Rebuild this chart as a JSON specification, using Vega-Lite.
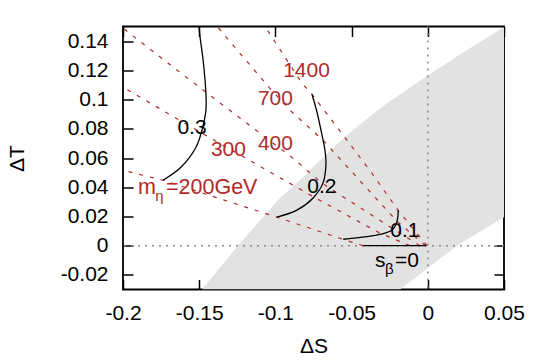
{
  "$schema": "https://vega.github.io/schema/vega-lite/v6.json",
  "width": 381,
  "height": 263,
  "autosize": {"type": "none"},
  "padding": {"left": 123, "top": 26.5, "right": 41, "bottom": 72.5},
  "background": "white",
  "config": {
    "view": {"stroke": "black", "strokeWidth": 1.8},
    "font": "Liberation Sans",
    "axis": {
      "domain": false, "grid": false, "tickColor": "black", "tickWidth": 1.5, "tickSize": -10,
      "labelFont": "Liberation Sans", "labelFontSize": 21, "labelColor": "black",
      "labelFlush": false, "labelOverlap": false, "labelBound": false,
      "titleFont": "Liberation Sans", "titleFontSize": 21, "titleFontWeight": "normal", "titleColor": "black"
    }
  },
  "datasets": {
    "region": [
      {"x": -0.1482, "top": -0.03, "bottom": -0.03},
      {"x": -0.1246, "top": 0.0, "bottom": -0.03},
      {"x": -0.0985, "top": 0.0311, "bottom": -0.03},
      {"x": -0.0819, "top": 0.0469, "bottom": -0.03},
      {"x": -0.0675, "top": 0.0619, "bottom": -0.03},
      {"x": -0.0531, "top": 0.0756, "bottom": -0.03},
      {"x": -0.038, "top": 0.0886, "bottom": -0.03},
      {"x": -0.0249, "top": 0.0988, "bottom": -0.03},
      {"x": -0.0183, "top": 0.1035, "bottom": -0.03},
      {"x": 0.0001, "top": 0.1166, "bottom": -0.0152},
      {"x": 0.0191, "top": 0.1294, "bottom": 0.0},
      {"x": 0.0244, "top": 0.133, "bottom": 0.0033},
      {"x": 0.05, "top": 0.1495, "bottom": 0.0195}
    ],
    "mass": [
      {"m": "200", "o": 0, "x": -0.0425, "y": 0.0},
      {"m": "200", "o": 1, "x": -0.0557, "y": 0.0044},
      {"m": "200", "o": 2, "x": -0.099, "y": 0.0195},
      {"m": "200", "o": 3, "x": -0.1738, "y": 0.0448},
      {"m": "200", "o": 4, "x": -0.2, "y": 0.0516},
      {"m": "300", "o": 0, "x": -0.0117, "y": 0.0},
      {"m": "300", "o": 1, "x": -0.0314, "y": 0.0086},
      {"m": "300", "o": 2, "x": -0.0747, "y": 0.0332},
      {"m": "300", "o": 3, "x": -0.1482, "y": 0.077},
      {"m": "300", "o": 4, "x": -0.2, "y": 0.1084},
      {"m": "400", "o": 0, "x": -0.0052, "y": 0.0},
      {"m": "400", "o": 1, "x": -0.0235, "y": 0.012},
      {"m": "400", "o": 2, "x": -0.0695, "y": 0.0428},
      {"m": "400", "o": 3, "x": -0.0885, "y": 0.0599},
      {"m": "400", "o": 4, "x": -0.1456, "y": 0.105},
      {"m": "400", "o": 5, "x": -0.1941, "y": 0.144},
      {"m": "400", "o": 6, "x": -0.2, "y": 0.149},
      {"m": "700", "o": 0, "x": -0.0015, "y": 0.0},
      {"m": "700", "o": 1, "x": -0.0203, "y": 0.0168},
      {"m": "700", "o": 2, "x": -0.0688, "y": 0.0722},
      {"m": "700", "o": 3, "x": -0.0904, "y": 0.0927},
      {"m": "700", "o": 4, "x": -0.1036, "y": 0.1077},
      {"m": "700", "o": 5, "x": -0.1383, "y": 0.15},
      {"m": "1400", "o": 0, "x": -0.0005, "y": 0.0},
      {"m": "1400", "o": 1, "x": -0.0196, "y": 0.0243},
      {"m": "1400", "o": 2, "x": -0.0367, "y": 0.0496},
      {"m": "1400", "o": 3, "x": -0.059, "y": 0.0804},
      {"m": "1400", "o": 4, "x": -0.076, "y": 0.1036},
      {"m": "1400", "o": 5, "x": -0.0826, "y": 0.1112},
      {"m": "1400", "o": 6, "x": -0.1068, "y": 0.15}
    ],
    "sbeta": [
      {"s": "0.1", "o": 0, "x": -0.0555, "y": 0.0044},
      {"s": "0.1", "o": 1, "x": -0.0467, "y": 0.0053},
      {"s": "0.1", "o": 2, "x": -0.038, "y": 0.0065},
      {"s": "0.1", "o": 3, "x": -0.0292, "y": 0.0083},
      {"s": "0.1", "o": 4, "x": -0.0237, "y": 0.0106},
      {"s": "0.1", "o": 5, "x": -0.0211, "y": 0.014},
      {"s": "0.1", "o": 6, "x": -0.0198, "y": 0.0186},
      {"s": "0.1", "o": 7, "x": -0.0194, "y": 0.0243},
      {"s": "0.2", "o": 0, "x": -0.099, "y": 0.0195},
      {"s": "0.2", "o": 1, "x": -0.0859, "y": 0.0243},
      {"s": "0.2", "o": 2, "x": -0.0754, "y": 0.0325},
      {"s": "0.2", "o": 3, "x": -0.0688, "y": 0.0428},
      {"s": "0.2", "o": 4, "x": -0.0668, "y": 0.0564},
      {"s": "0.2", "o": 5, "x": -0.0675, "y": 0.0653},
      {"s": "0.2", "o": 6, "x": -0.0701, "y": 0.079},
      {"s": "0.2", "o": 7, "x": -0.0727, "y": 0.0913},
      {"s": "0.2", "o": 8, "x": -0.076, "y": 0.1036},
      {"s": "0.3", "o": 0, "x": -0.1738, "y": 0.0448},
      {"s": "0.3", "o": 1, "x": -0.162, "y": 0.0537},
      {"s": "0.3", "o": 2, "x": -0.1521, "y": 0.0674},
      {"s": "0.3", "o": 3, "x": -0.1482, "y": 0.079},
      {"s": "0.3", "o": 4, "x": -0.1456, "y": 0.0927},
      {"s": "0.3", "o": 5, "x": -0.1456, "y": 0.1043},
      {"s": "0.3", "o": 6, "x": -0.1475, "y": 0.1276},
      {"s": "0.3", "o": 7, "x": -0.1495, "y": 0.1433},
      {"s": "0.3", "o": 8, "x": -0.1501, "y": 0.15},
      {"s": "0", "o": 0, "x": -0.0425, "y": 0.0},
      {"s": "0", "o": 1, "x": -0.0012, "y": 0.0}
    ],
    "redLabels": [
      {"t": "300", "x": -0.1308, "y": 0.0653},
      {"t": "400", "x": -0.1, "y": 0.0698},
      {"t": "700", "x": -0.1, "y": 0.1002},
      {"t": "1400", "x": -0.0796, "y": 0.1194}
    ],
    "redLeft": [
      {"t": "m", "x": -0.1902, "y": 0.0397},
      {"t": "=200GeV", "x": -0.1718, "y": 0.0397}
    ],
    "redSub": [
      {"t": "η", "x": -0.1788, "y": 0.0337}
    ],
    "blackLabels": [
      {"t": "0.3", "x": -0.1547, "y": 0.0804},
      {"t": "0.2", "x": -0.0695, "y": 0.0404},
      {"t": "0.1", "x": -0.015, "y": 0.0103}
    ],
    "blackLeft": [
      {"t": "s", "x": -0.0347, "y": -0.0106},
      {"t": "=0", "x": -0.0216, "y": -0.0106}
    ],
    "blackSub": [
      {"t": "β", "x": -0.0281, "y": -0.0161}
    ],
    "zx": [{"x": 0}],
    "zy": [{"y": 0}]
  },
  "resolve": {"axis": {"x": "independent", "y": "independent"}},
  "layer": [
    {
      "data": {"name": "region"},
      "mark": {"type": "area", "color": "#e2e2e2", "clip": true},
      "encoding": {
        "x": {
          "field": "x", "type": "quantitative",
          "scale": {"domain": [-0.2, 0.05], "nice": false, "zero": false},
          "axis": {
            "orient": "bottom", "values": [-0.2, -0.15, -0.1, -0.05, 0, 0.05],
            "labelExpr": "datum.value < 0 ? '-' + format(-datum.value, '~g') : format(datum.value, '~g')",
            "labelPadding": 23, "title": "ΔS", "titleY": 63, "titleBaseline": "alphabetic"
          }
        },
        "y": {
          "field": "top", "type": "quantitative",
          "scale": {"domain": [-0.03, 0.15], "nice": false, "zero": false},
          "axis": {
            "orient": "left", "values": [-0.02, 0, 0.02, 0.04, 0.06, 0.08, 0.1, 0.12, 0.14],
            "labelExpr": "datum.value < 0 ? '-' + format(-datum.value, '~g') : format(datum.value, '~g')",
            "labelPadding": 25, "title": "ΔT", "titleX": -100, "titleY": 131.5, "titleAngle": -90,
            "titleAlign": "center", "titleBaseline": "alphabetic"
          }
        },
        "y2": {"field": "bottom"}
      }
    },
    {
      "data": {"name": "zx"},
      "mark": {"type": "rule", "color": "#888888", "strokeWidth": 1.5, "strokeDash": [2, 5]},
      "encoding": {
        "x": {"field": "x", "type": "quantitative", "axis": {"orient": "top", "labels": false, "title": null, "values": [-0.2, -0.15, -0.1, -0.05, 0, 0.05]}}
      }
    },
    {
      "data": {"name": "zy"},
      "mark": {"type": "rule", "color": "#888888", "strokeWidth": 1.5, "strokeDash": [2, 5]},
      "encoding": {
        "y": {"field": "y", "type": "quantitative", "axis": {"orient": "right", "labels": false, "title": null, "values": [-0.02, 0, 0.02, 0.04, 0.06, 0.08, 0.1, 0.12, 0.14]}}
      }
    },
    {
      "data": {"name": "mass"},
      "mark": {"type": "line", "color": "#b22a2a", "strokeWidth": 1.2, "strokeDash": [4, 7], "clip": true},
      "encoding": {
        "x": {"field": "x", "type": "quantitative", "axis": null},
        "y": {"field": "y", "type": "quantitative", "axis": null},
        "detail": {"field": "m"},
        "order": {"field": "o", "type": "quantitative"}
      }
    },
    {
      "data": {"name": "sbeta"},
      "mark": {"type": "line", "color": "black", "strokeWidth": 1.3, "interpolate": "catmull-rom", "clip": true},
      "encoding": {
        "x": {"field": "x", "type": "quantitative", "axis": null},
        "y": {"field": "y", "type": "quantitative", "axis": null},
        "detail": {"field": "s"},
        "order": {"field": "o", "type": "quantitative"}
      }
    },
    {
      "data": {"name": "redLabels"},
      "mark": {"type": "text", "color": "#b22a2a", "fontSize": 21, "font": "Liberation Sans", "align": "center", "baseline": "middle"},
      "encoding": {
        "x": {"field": "x", "type": "quantitative", "axis": null},
        "y": {"field": "y", "type": "quantitative", "axis": null},
        "text": {"field": "t"}
      }
    },
    {
      "data": {"name": "redLeft"},
      "mark": {"type": "text", "color": "#b22a2a", "fontSize": 21.5, "font": "Liberation Sans", "align": "left", "baseline": "middle"},
      "encoding": {
        "x": {"field": "x", "type": "quantitative", "axis": null},
        "y": {"field": "y", "type": "quantitative", "axis": null},
        "text": {"field": "t"}
      }
    },
    {
      "data": {"name": "redSub"},
      "mark": {"type": "text", "color": "#b22a2a", "fontSize": 15, "font": "Liberation Sans", "align": "left", "baseline": "middle"},
      "encoding": {
        "x": {"field": "x", "type": "quantitative", "axis": null},
        "y": {"field": "y", "type": "quantitative", "axis": null},
        "text": {"field": "t"}
      }
    },
    {
      "data": {"name": "blackLabels"},
      "mark": {"type": "text", "color": "black", "fontSize": 21, "font": "Liberation Sans", "align": "center", "baseline": "middle"},
      "encoding": {
        "x": {"field": "x", "type": "quantitative", "axis": null},
        "y": {"field": "y", "type": "quantitative", "axis": null},
        "text": {"field": "t"}
      }
    },
    {
      "data": {"name": "blackLeft"},
      "mark": {"type": "text", "color": "black", "fontSize": 21, "font": "Liberation Sans", "align": "left", "baseline": "middle"},
      "encoding": {
        "x": {"field": "x", "type": "quantitative", "axis": null},
        "y": {"field": "y", "type": "quantitative", "axis": null},
        "text": {"field": "t"}
      }
    },
    {
      "data": {"name": "blackSub"},
      "mark": {"type": "text", "color": "black", "fontSize": 15, "font": "Liberation Sans", "align": "left", "baseline": "middle"},
      "encoding": {
        "x": {"field": "x", "type": "quantitative", "axis": null},
        "y": {"field": "y", "type": "quantitative", "axis": null},
        "text": {"field": "t"}
      }
    }
  ]
}
